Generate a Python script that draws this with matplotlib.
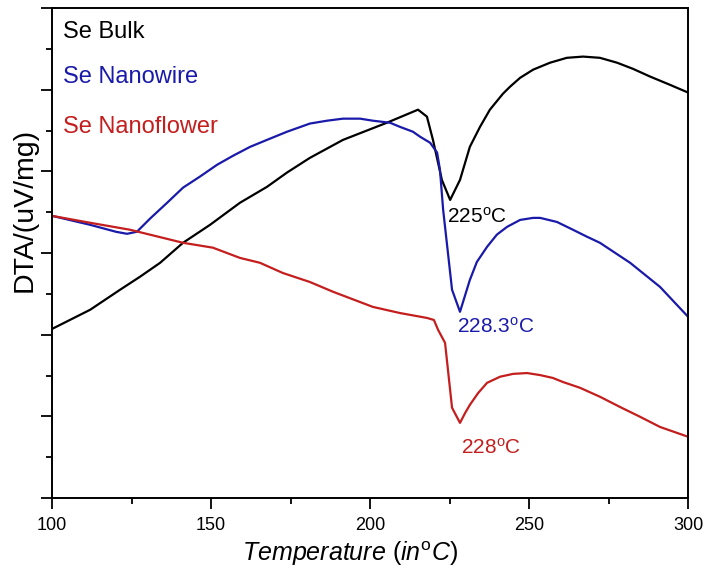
import matplotlib
matplotlib.use("Agg")
import matplotlib.pyplot as plt
from matplotlib.ticker import MultipleLocator

plt.rcParams['font.family'] = ['Liberation Sans', 'DejaVu Sans']
plt.rcParams['mathtext.fontset'] = 'custom'
plt.rcParams['mathtext.rm'] = 'Liberation Sans'
plt.rcParams['mathtext.it'] = 'Liberation Sans:italic'

# Se Bulk
bulk_T = [100, 112.0, 121.4, 127.7, 134.0, 141.2, 149.7, 159.1, 167.6, 173.9,
          181.1, 191.5, 205.3, 215.1, 217.9, 219.8, 222.6, 225.2, 228.3, 231.4,
          234.6, 237.7, 241.8, 244.0, 247.2, 251.3, 256.6, 261.9, 267.0, 272.3,
          277.7, 282.7, 288.1, 294.3, 300]
bulk_v = [4.14, 4.61, 5.10, 5.42, 5.76, 6.25, 6.69, 7.23, 7.62, 7.97,
          8.33, 8.77, 9.19, 9.51, 9.34, 8.77, 7.79, 7.30, 7.79, 8.60,
          9.09, 9.51, 9.90, 10.07, 10.29, 10.49, 10.66, 10.78, 10.81, 10.78,
          10.66, 10.51, 10.32, 10.12, 9.93]

# Se Nanowire
wire_T = [100, 112.0, 120.1, 123.6, 126.7, 130.8, 136.2, 141.2, 146.5, 151.9,
          156.9, 162.3, 167.6, 173.9, 181.1, 186.5, 191.5, 196.9, 200.9, 206.3,
          209.4, 213.5, 215.7, 218.9, 221.1, 222.0, 223.0, 225.8, 228.3, 231.4,
          233.6, 236.8, 239.9, 243.1, 247.2, 251.3, 253.5, 258.8, 263.8, 268.2,
          272.3, 281.8, 291.2, 300]
wire_v = [6.91, 6.69, 6.52, 6.47, 6.52, 6.84, 7.23, 7.60, 7.87, 8.16,
          8.38, 8.60, 8.77, 8.97, 9.17, 9.24, 9.29, 9.29, 9.24, 9.19,
          9.09, 8.97, 8.85, 8.70, 8.46, 8.04, 7.06, 5.10, 4.56, 5.34,
          5.78, 6.15, 6.45, 6.64, 6.81, 6.86, 6.86, 6.76, 6.57, 6.40,
          6.25, 5.76, 5.17, 4.44]

# Se Nanoflower
flower_T = [100, 112.0, 124.5, 141.2, 150.6, 159.1, 165.4, 172.6, 181.1, 188.4,
            200.9, 209.4, 217.9, 220.1, 221.4, 223.6, 225.8, 228.3, 229.9, 231.4,
            234.0, 236.8, 240.9, 245.0, 249.4, 253.5, 257.5, 260.7, 266.0, 272.3,
            278.6, 284.9, 291.2, 300]
flower_v = [6.91, 6.74, 6.57, 6.25, 6.13, 5.88, 5.76, 5.51, 5.29, 5.05,
            4.68, 4.53, 4.41, 4.36, 4.12, 3.80, 2.21, 1.84, 2.08, 2.28,
            2.57, 2.82, 2.97, 3.04, 3.06, 3.01, 2.94, 2.84, 2.70, 2.48,
            2.23, 1.99, 1.74, 1.50]

labels = ["Se Bulk", "Se Nanowire", "Se Nanoflower"]
peak_labels = [r"225$^{\rm o}$C", r"228.3$^{\rm o}$C", r"228$^{\rm o}$C"]
x_ticks = [100, 150, 200, 250, 300]

c_black = "#000000"
c_blue = "#1a1aaa"
c_red = "#c41e1e"

fig = plt.figure(figsize=(7.06, 5.78), dpi=100)
ax = fig.add_axes([52/706, 80/578, 636/706, 490/578])

ax.plot(bulk_T, bulk_v, color=c_black, lw=1.6)
ax.plot(wire_T, wire_v, color=c_blue, lw=1.6)
ax.plot(flower_T, flower_v, color=c_red, lw=1.6)

ax.set_xlim(100, 300)
ax.set_ylim(0, 12)
ax.set_xticks(x_ticks)
ax.xaxis.set_minor_locator(MultipleLocator(25))
ax.yaxis.set_major_locator(MultipleLocator(2))
ax.yaxis.set_minor_locator(MultipleLocator(1))
ax.set_yticklabels([])
ax.tick_params(axis='both', which='major', direction='out', length=8, width=1.3, labelsize=13)
ax.tick_params(axis='both', which='minor', direction='out', length=4.5, width=1.3)
ax.tick_params(axis='x', pad=6)
for s in ax.spines.values():
    s.set_linewidth(1.4)

ax.set_xlabel(r"$\it{Temperature\ (in}^{\rm o}\it{C)}$", fontsize=18)
ax.xaxis.set_label_coords(0.469, -0.084)
ax.set_ylabel("DTA/(uV/mg)", fontsize=20.5)
ax.yaxis.set_label_coords(-0.022, 0.588)

leg_cols = [c_black, c_blue, c_red]
leg_y = [0.952, 0.859, 0.757]
for lab, col, yy in zip(labels, leg_cols, leg_y):
    ax.text(0.018, yy, lab, color=col, fontsize=17, transform=ax.transAxes,
            ha='left', va='center')

ann_pos = [(224.2, 6.89), (227.4, 4.19), (228.6, 1.23)]
for lab, col, (xx, yy) in zip(peak_labels, leg_cols, ann_pos):
    ax.text(xx, yy, lab, color=col, fontsize=15, ha='left', va='center')

fig.savefig("out.png", dpi=100)
